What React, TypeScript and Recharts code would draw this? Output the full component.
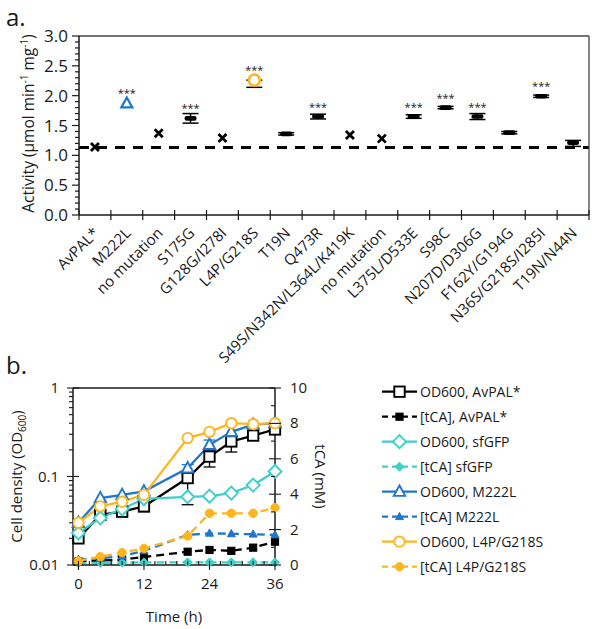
import React from "react";
import {ComposedChart, Scatter, Line, XAxis, YAxis, ErrorBar, ReferenceLine} from "recharts";

const FONT = "'Open Sans', sans-serif";
const BLUE = "#1F76CB";
const ORANGE = "#FFB61E";
const CYAN = "#3FCFC6";
const INK = "#1a1a1a";

// ---- panel a: enzyme activity per variant
const variants = ["AvPAL*", "M222L", "no mutation", "S175G", "G128G/I278I", "L4P/G218S", "T19N", "Q473R",
	"S49S/N342N/L364L/K419K", "no mutation", "L375L/D533E", "S98C", "N207D/D306G", "F162Y/G194G", "N36S/G218S/I285I", "T19N/N44N"];
const activity = [1.14, 1.87, 1.37, 1.62, 1.29, 2.26, 1.36, 1.65, 1.34, 1.28, 1.65, 1.80, 1.65, 1.38, 1.99, 1.21];
// [below, above]; null where no error bar is visible
const activityErr = [null, null, null, [0.08, 0.08], null, [0.12, 0], [0.02, 0.02], [0.04, 0.04], null, null,
	[0.03, 0.03], [0.02, 0.02], [0.05, 0.05], [0.02, 0.02], [0.02, 0.02], [0.06, 0.04]];
const markerKind = ["x", "triangle", "x", "dash", "x", "circle", "dash", "dash", "x", "x", "dash", "dash", "dash", "dash", "dash", "dash"];
const significant = [false, true, false, true, false, true, false, true, false, false, true, true, true, false, true, false];
const parentActivity = 1.13;
const activityTicks = [0, 0.1, 0.2, 0.3, 0.4, 0.5, 0.6, 0.7, 0.8, 0.9, 1.0, 1.1, 1.2, 1.3, 1.4, 1.5, 1.6, 1.7, 1.8, 1.9,
	2.0, 2.1, 2.2, 2.3, 2.4, 2.5, 2.6, 2.7, 2.8, 2.9, 3.0];
const variantBounds = [0, 1, 2, 3, 4, 5, 6, 7, 8, 9, 10, 11, 12, 13, 14, 15, 16];

// ---- panel b: growth and tCA production
const time = [0, 4, 8, 12, 20, 24, 28, 32, 36];
const odAvpal = [0.020, 0.037, 0.040, 0.046, 0.096, 0.168, 0.249, 0.29, 0.34];
const odAvpalErr = [null, [0.005, 0.004], [0.004, 0.004], [0.006, 0.005], [0.048, 0.01], [0.04, 0.03], [0.06, 0.04], [0.02, 0.02], [0.02, 0.02]];
const tcaAvpal = [0.2, 0.25, 0.3, 0.45, 0.75, 0.85, 0.8, 0.98, 1.32];
const odGfp = [0.023, 0.034, 0.043, 0.056, 0.059, 0.060, 0.065, 0.080, 0.114];
const tcaGfp = [0.1, 0.12, 0.13, 0.15, 0.15, 0.15, 0.15, 0.15, 0.15];
const odM222L = [0.030, 0.057, 0.062, 0.068, 0.124, 0.228, 0.32, 0.385, 0.40];
const odM222LErr = [null, null, null, null, [0.01, 0.012], [0.03, 0.03], null, null, null];
const tcaM222L = [0.32, 0.38, 0.5, 0.8, 1.7, 1.79, 1.76, 1.74, 1.7];
const odL4P = [0.030, 0.046, 0.052, 0.062, 0.272, 0.32, 0.40, 0.39, 0.40];
const tcaL4P = [0.23, 0.47, 0.70, 0.94, 1.64, 2.92, 2.92, 2.92, 3.24];
const timeTicks = [0, 2, 4, 6, 8, 10, 12, 14, 16, 18, 20, 22, 24, 26, 28, 30, 32, 34, 36];
const timeLabels = [0, 12, 24, 36];
const odTicks = [0.01, 0.02, 0.03, 0.04, 0.05, 0.06, 0.07, 0.08, 0.09, 0.1, 0.2, 0.3, 0.4, 0.5, 0.6, 0.7, 0.8, 0.9, 1];
const odLabels = [0.01, 0.1, 1];
const tcaTicks = [0, 1, 2, 3, 4, 5, 6, 7, 8, 9, 10];

const activityData = variants.map((name, i) => ({
	x: i + 0.5, y: activity[i], err: activityErr[i], marker: markerKind[i], sig: significant[i], name
}));

const growthData = time.map((t, i) => ({
	t,
	odAvpal: odAvpal[i], odAvpalErr: odAvpalErr[i], tcaAvpal: tcaAvpal[i],
	odGfp: odGfp[i], tcaGfp: tcaGfp[i],
	odM222L: odM222L[i], odM222LErr: odM222LErr[i], tcaM222L: tcaM222L[i],
	odL4P: odL4P[i], tcaL4P: tcaL4P[i],
}));

const series = [
	{key: "odAvpal", name: "OD600, AvPAL*", axis: "od", color: "#000", shape: "square", filled: false, err: "odAvpalErr"},
	{key: "tcaAvpal", name: "[tCA], AvPAL*", axis: "tca", color: "#000", shape: "square", filled: true},
	{key: "odGfp", name: "OD600, sfGFP", axis: "od", color: CYAN, shape: "diamond", filled: false},
	{key: "tcaGfp", name: "[tCA] sfGFP", axis: "tca", color: CYAN, shape: "diamond", filled: true},
	{key: "odM222L", name: "OD600, M222L", axis: "od", color: BLUE, shape: "triangle", filled: false, err: "odM222LErr"},
	{key: "tcaM222L", name: "[tCA] M222L", axis: "tca", color: BLUE, shape: "triangle", filled: true},
	{key: "odL4P", name: "OD600, L4P/G218S", axis: "od", color: ORANGE, shape: "circle", filled: false},
	{key: "tcaL4P", name: "[tCA] L4P/G218S", axis: "tca", color: ORANGE, shape: "circle", filled: true},
];

// axes are given 1px of room each: a zero-sized axis is not drawn at all
const A_W = 596, A_H = 370;
const A_MARGIN = {top: 35, right: 6, bottom: 154, left: 78};
const BAND = (A_W - 79 - 7) / variants.length;

const B_W = 596, B_H = 269;
const B_MARGIN = {top: 27, right: 320, bottom: 63, left: 72};

const ActivityTick = ({x, y, payload}: any) => {
	const v = payload.value;
	const major = Math.abs(v * 2 - Math.round(v * 2)) < 1e-6;
	return <g>
		<line x1={x - (major ? 7 : 4)} x2={x} y1={y} y2={y} stroke={INK} strokeWidth={1.2}/>
		{major && <text x={x - 11} y={y} dy={6} textAnchor="end" fontSize={17} fontFamily={FONT} fill={INK}>{v.toFixed(1)}</text>}
	</g>;
};

const VariantTick = ({x, y, payload}: any) => {
	const i = payload.value;
	return <g>
		<line x1={x} x2={x} y1={y - 5} y2={y + 5} stroke={INK} strokeWidth={1.2}/>
		{i < variants.length &&
			<text transform={`translate(${x + BAND / 2 + 5},${y + 19}) rotate(-45)`} textAnchor="end" fontSize={15}
						fontFamily={FONT} fill={INK}>{variants[i]}</text>}
	</g>;
};

const ActivityTitle = ({viewBox}: any) => {
	const cx = viewBox.x + viewBox.width - 45, cy = viewBox.y + viewBox.height / 2 - 2;
	return <text transform={`translate(${cx},${cy}) rotate(-90)`} textAnchor="middle" fontSize={15.5} fontFamily={FONT} fill={INK}>
		Activity (µmol min<tspan dy={-6} fontSize={10}>-1</tspan><tspan dy={6}> mg</tspan><tspan dy={-6} fontSize={10}>-1</tspan><tspan dy={6}>)</tspan>
	</text>;
};

const ActivityMarker = ({cx, cy, payload}: any) => {
	let mark;
	if (payload.marker === "x") {
		mark = <path d={`M${cx - 4},${cy - 4}L${cx + 4},${cy + 4}M${cx - 4},${cy + 4}L${cx + 4},${cy - 4}`} stroke="#000" strokeWidth={2.8}/>;
	} else if (payload.marker === "dash") {
		mark = <rect x={cx - 6} y={cy - 2.3} width={12} height={4.6} rx={2} fill="#000"/>;
	} else if (payload.marker === "triangle") {
		mark = <path d={`M${cx},${cy - 6}L${cx + 5.5},${cy + 4}L${cx - 5.5},${cy + 4}Z`} fill="#fff" stroke={BLUE} strokeWidth={2.2}/>;
	} else {
		mark = <circle cx={cx} cy={cy} r={5.6} fill="#fff" stroke={ORANGE} strokeWidth={2.6}/>;
	}
	return <g>
		{mark}
		{payload.sig && <text x={cx} y={cy - 6} textAnchor="middle" fontSize={11} fontFamily={FONT} fill={INK}>***</text>}
	</g>;
};

const SeriesMarker = ({cx, cy, shape, color, filled}: any) => {
	if (cx == null || cy == null) return null;
	const fill = filled ? color : "#fff";
	const r = filled ? 3.6 : 5.2;
	const sw = filled ? 1 : 1.9;
	if (shape === "square") return <rect x={cx - r} y={cy - r} width={2 * r} height={2 * r} fill={fill} stroke={color} strokeWidth={sw}/>;
	if (shape === "diamond") {
		const d = r * 1.25;
		return <path d={`M${cx},${cy - d}L${cx + d},${cy}L${cx},${cy + d}L${cx - d},${cy}Z`} fill={fill} stroke={color} strokeWidth={sw}/>;
	}
	if (shape === "triangle") {
		return <path d={`M${cx},${cy - r * 1.2}L${cx + r * 1.1},${cy + r * 0.8}L${cx - r * 1.1},${cy + r * 0.8}Z`} fill={fill} stroke={color} strokeWidth={sw}/>;
	}
	return <circle cx={cx} cy={cy} r={filled ? r + 0.6 : r} fill={fill} stroke={color} strokeWidth={sw}/>;
};

const TimeTick = ({x, y, payload}: any) => {
	const major = timeLabels.includes(payload.value);
	return <g>
		<line x1={x} x2={x} y1={y - 4} y2={major ? y + 5 : y} stroke={INK} strokeWidth={1.1}/>
		{major && <text x={x} y={y + 24} textAnchor="middle" fontSize={15} fontFamily={FONT} fill={INK}>{payload.value}</text>}
	</g>;
};

const OdTick = ({x, y, payload}: any) => {
	const v = payload.value;
	const major = odLabels.includes(v);
	return <g>
		<line x1={x - (major ? 6 : 4)} x2={major ? x + 6 : x} y1={y} y2={y} stroke={INK} strokeWidth={1.1}/>
		{major && <text x={x - 14} y={y} dy={5} textAnchor="end" fontSize={15} fontFamily={FONT} fill={INK}>{v}</text>}
	</g>;
};

const TcaTick = ({x, y, payload}: any) => {
	const v = payload.value;
	const major = v % 2 === 0;
	return <g>
		<line x1={x - (major ? 6 : 4)} x2={major ? x + 6 : x} y1={y} y2={y} stroke={INK} strokeWidth={1.1}/>
		{major && <text x={x + 15} y={y} dy={5} textAnchor="start" fontSize={15} fontFamily={FONT} fill={INK}>{v}</text>}
	</g>;
};

const OdTitle = ({viewBox}: any) => {
	const cx = viewBox.x + viewBox.width - 51, cy = viewBox.y + viewBox.height / 2;
	return <text transform={`translate(${cx},${cy}) rotate(-90)`} textAnchor="middle" fontSize={15} fontFamily={FONT} fill={INK}>
		Cell density (OD<tspan dy={4} fontSize={10}>600</tspan><tspan dy={-4}>)</tspan>
	</text>;
};

const TcaTitle = ({viewBox}: any) => {
	const cx = viewBox.x + 40, cy = viewBox.y + viewBox.height / 2;
	return <text transform={`translate(${cx},${cy}) rotate(90)`} textAnchor="middle" fontSize={15} fontFamily={FONT} fill={INK}>tCA (mM)</text>;
};

const TimeTitle = ({viewBox}: any) =>
	<text x={viewBox.x + viewBox.width / 2} y={viewBox.y + 57} textAnchor="middle" fontSize={15} fontFamily={FONT} fill={INK}>Time (h)</text>;

const GrowthLegend = () => <svg width={221} height={215} style={{position: "absolute", left: 375, top: 375}}>
	{series.map((s, i) => {
		const y = 16.7 + 25 * i;
		return <g key={s.key}>
			<line x1={7} x2={42} y1={y} y2={y} stroke={s.color} strokeWidth={2.2}
						strokeDasharray={s.filled ? "6 4" : undefined}/>
			<SeriesMarker cx={24.5} cy={y} shape={s.shape} color={s.color} filled={s.filled}/>
			<text x={45} y={y + 5} fontSize={14} fontFamily={FONT} fill={INK}>{s.name}</text>
		</g>;
	})}
</svg>;

export default function App() {
	const orderedSeries = [...series.filter(s => s.filled), ...series.filter(s => !s.filled)];
	return <div style={{position: "absolute", left: 0, top: 0, width: 596, height: 629, background: "#fff", fontFamily: FONT}}>
		<div style={{position: "absolute", left: 0, top: 0}}>
			<ComposedChart width={A_W} height={A_H} data={activityData} margin={A_MARGIN}>
				<XAxis dataKey="x" type="number" domain={[0, 16]} ticks={variantBounds} interval={0} tick={<VariantTick/>}
							 tickLine={false} tickSize={0} tickMargin={0} height={1} axisLine={{stroke: INK, strokeWidth: 1.5}}/>
				<XAxis xAxisId="top" orientation="top" type="number" domain={[0, 16]} tick={false} tickLine={false} height={1}
							 axisLine={{stroke: "#444", strokeWidth: 1.3}}/>
				<YAxis dataKey="y" type="number" domain={[0, 3]} ticks={activityTicks} interval={0} tick={<ActivityTick/>}
							 tickLine={false} tickSize={0} tickMargin={0} width={1} axisLine={{stroke: INK, strokeWidth: 1.5}}
							 label={<ActivityTitle/>}/>
				<YAxis yAxisId="right" orientation="right" type="number" domain={[0, 3]} tick={false} tickLine={false} width={1}
							 axisLine={{stroke: "#444", strokeWidth: 1.3}}/>
				<ReferenceLine y={parentActivity} stroke="#000" strokeWidth={3} strokeDasharray="10 8"/>
				<Scatter dataKey="y" isAnimationActive={false} shape={(p: any) => <ActivityMarker {...p}/>}>
					<ErrorBar dataKey="err" direction="y" width={8} stroke="#000" strokeWidth={1.5}/>
				</Scatter>
			</ComposedChart>
		</div>
		<div style={{position: "absolute", left: 0, top: 360}}>
			<ComposedChart width={B_W} height={B_H} data={growthData} margin={B_MARGIN}>
				<XAxis dataKey="t" type="number" domain={[-1, 36]} ticks={timeTicks} interval={0} tick={<TimeTick/>}
							 tickLine={false} tickSize={0} tickMargin={0} height={1} axisLine={{stroke: INK, strokeWidth: 1.5}}
							 label={<TimeTitle/>}/>
				<XAxis xAxisId="top" orientation="top" type="number" domain={[-1, 36]} tick={false} tickLine={false} height={1}
							 axisLine={{stroke: INK, strokeWidth: 1.5}}/>
				<YAxis yAxisId="od" scale="log" type="number" domain={[0.01, 1]} allowDataOverflow ticks={odTicks} interval={0}
							 tick={<OdTick/>} tickLine={false} tickSize={0} tickMargin={0} width={1}
							 axisLine={{stroke: INK, strokeWidth: 1.5}} label={<OdTitle/>}/>
				<YAxis yAxisId="tca" orientation="right" type="number" domain={[0, 10]} ticks={tcaTicks} interval={0}
							 tick={<TcaTick/>} tickLine={false} tickSize={0} tickMargin={0} width={1}
							 axisLine={{stroke: INK, strokeWidth: 1.5}} label={<TcaTitle/>}/>
				{orderedSeries.map(s =>
					<Line key={s.key} yAxisId={s.axis} dataKey={s.key} type="linear" stroke={s.color} strokeWidth={2.3}
								strokeDasharray={s.filled ? "8 5" : undefined} isAnimationActive={false}
								dot={(p: any) => <SeriesMarker key={`${s.key}-${p.index}`} cx={p.cx} cy={p.cy} shape={s.shape}
																							 color={s.color} filled={s.filled}/>}
								activeDot={false}>
						{s.err && <ErrorBar dataKey={s.err} direction="y" width={6} stroke={s.color} strokeWidth={1.3}/>}
					</Line>
				)}
			</ComposedChart>
		</div>
		<GrowthLegend/>
		<svg width={60} height={44} style={{position: "absolute", left: 0, top: 0}}>
			<text x={6} y={26} fontSize={24} fontFamily={FONT} fill={INK}>a.</text>
		</svg>
		<svg width={60} height={44} style={{position: "absolute", left: 0, top: 348}}>
			<text x={6} y={26} fontSize={24} fontFamily={FONT} fill={INK}>b.</text>
		</svg>
	</div>;
}
